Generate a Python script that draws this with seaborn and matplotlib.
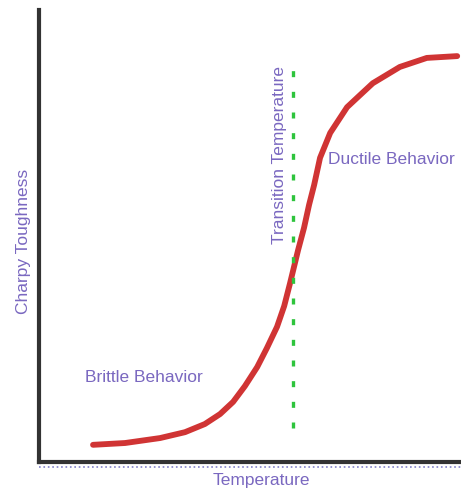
import matplotlib.pyplot as plt
import seaborn as sns
import pandas as pd

# curve points
temperature = [12.8, 20.4, 28.7, 34.6, 39.3, 42.9, 46.0, 48.8, 51.7, 54.0, 56.4, 58.1, 59.5,
               61.4, 62.8, 64.0, 65.2, 66.6, 69.0, 73.0, 76.1, 79.1, 85.5, 91.9, 99.1]
toughness = [3.8, 4.2, 5.3, 6.6, 8.4, 10.6, 13.3, 16.8, 21.0, 25.2, 29.9, 34.5, 39.6,
             46.9, 51.8, 56.9, 61.3, 67.3, 72.8, 78.5, 81.2, 83.8, 87.4, 89.4, 89.8]
transition_x = [60.2, 60.2]
transition_y = [7.5, 87.8]

df = pd.DataFrame({'Temperature': temperature, 'Charpy Toughness': toughness})

sns.set_style('white')
plt.rcParams['font.family'] = ['Liberation Sans', 'DejaVu Sans']

fig = plt.figure(figsize=(4.61, 4.90), dpi=100)
ax = fig.add_axes([39 / 461, 28 / 490, 422 / 461, 452 / 490])

txt = '#7a68c0'
fs = 12.5

sns.lineplot(data=df, x='Temperature', y='Charpy Toughness', ax=ax,
             color='#d03434', linewidth=4.2, sort=False)
ax.plot(transition_x, transition_y, color='#2ec43c', linewidth=2.4,
        linestyle=(0, (1.8, 4.4)))

ax.set_xlim(0, 100)
ax.set_ylim(0, 100)
ax.set_xticks([])
ax.set_yticks([])
ax.set_xlabel('Temperature', color=txt, fontsize=fs)
ax.set_ylabel('Charpy Toughness', color=txt, fontsize=fs)
ax.xaxis.set_label_coords(0.526, -0.025)
ax.yaxis.set_label_coords(-0.018, 0.487)

for side in ['top', 'right']:
    ax.spines[side].set_visible(False)
for side in ['left', 'bottom']:
    ax.spines[side].set_color('#333333')
    ax.spines[side].set_linewidth(3)

# dotted line just below the bottom axis
ax.plot([0, 100], [-1.0, -1.0], color='#8080c8', linewidth=1.2, linestyle=':', clip_on=False)

ax.text(57.1, 67.9, 'Transition Temperature', rotation=90, color=txt, fontsize=fs,
        ha='center', va='center')
ax.text(68.5, 67, 'Ductile Behavior', color=txt, fontsize=fs, ha='left', va='center')
ax.text(10.9, 18.6, 'Brittle Behavior', color=txt, fontsize=fs, ha='left', va='center')

plt.savefig('out.png', dpi=100)
